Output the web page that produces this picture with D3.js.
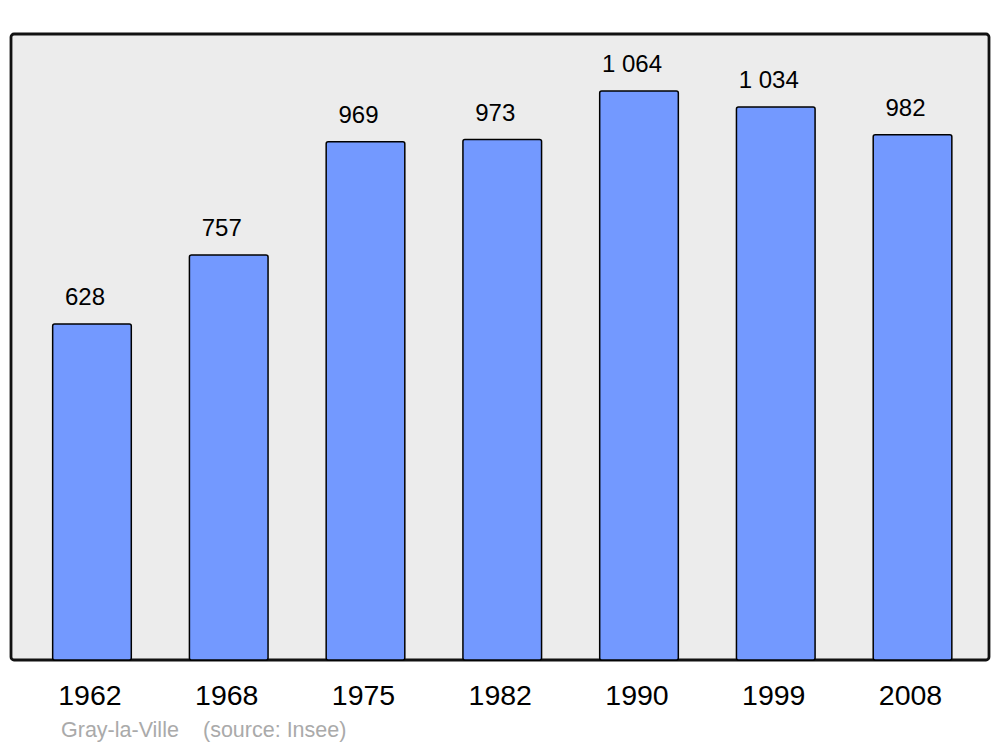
<!DOCTYPE html>
<html><head><meta charset="utf-8">
<script src="https://cdn.jsdelivr.net/npm/d3@7/dist/d3.min.js"></script>
<style>body{margin:0;background:#fff}svg{display:block;font-family:"Liberation Sans",Arial,sans-serif}</style>
</head><body>
<svg id="c" width="1000" height="747"></svg>
<script>
const years = ["1962","1968","1975","1982","1990","1999","2008"];
const population = [628, 757, 969, 973, 1064, 1034, 982];
const valueLabels = ["628","757","969","973","1 064","1 034","982"];
const commune = "Gray-la-Ville";
const sourceText = "(source: Insee)";

const svg = d3.select("#c");
const frame = {x0: 11, x1: 989, y0: 34, y1: 660};

svg.append("rect").attr("x", frame.x0).attr("y", frame.y0)
  .attr("width", frame.x1 - frame.x0).attr("height", frame.y1 - frame.y0)
  .attr("rx", 3).attr("fill", "#ececec").attr("stroke", "#111").attr("stroke-width", 2.8);

const x = d3.scaleBand().domain(years).range([23.6, 980.9]).padding(0);
const y = d3.scaleLinear().domain([0, d3.max(population) * 1.1]).range([frame.y1, frame.y0]);
const barW = x.bandwidth() * 0.575;

svg.selectAll("rect.bar").data(years).enter().append("rect").attr("class", "bar")
  .attr("x", d => x(d) + x.bandwidth() / 2 - barW / 2)
  .attr("y", (d, i) => y(population[i]))
  .attr("width", barW)
  .attr("height", (d, i) => frame.y1 - y(population[i]))
  .attr("rx", 2)
  .attr("fill", "#7399ff").attr("stroke", "#000").attr("stroke-width", 1.5);

svg.selectAll("text.val").data(years).enter().append("text").attr("class", "val")
  .attr("x", d => x(d) + x.bandwidth() / 2 - 7)
  .attr("y", (d, i) => y(population[i]) - 19)
  .attr("text-anchor", "middle").attr("font-size", 24).attr("fill", "#000")
  .text((d, i) => valueLabels[i]);

svg.selectAll("text.yr").data(years).enter().append("text").attr("class", "yr")
  .attr("x", d => x(d) + x.bandwidth() / 2 - 2)
  .attr("y", 705)
  .attr("text-anchor", "middle").attr("font-size", 28.5).attr("fill", "#000")
  .text(d => d);

svg.append("text").attr("x", 61).attr("y", 737).attr("font-size", 21.5).attr("fill", "#aaa").text(commune);
svg.append("text").attr("x", 203).attr("y", 737).attr("font-size", 21.5).attr("fill", "#aaa").text(sourceText);
</script>
</body></html>
